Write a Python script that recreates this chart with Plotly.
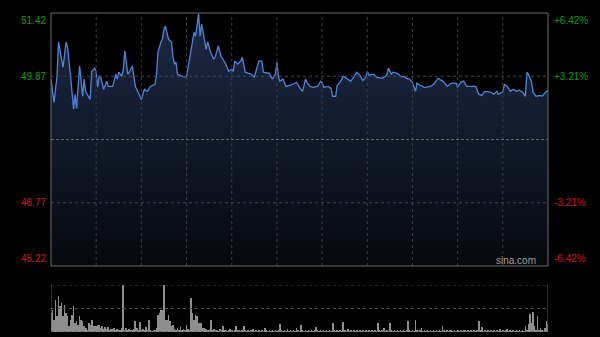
import plotly.graph_objects as go

# ---------------- data ----------------
prev_close = 48.32
pct_levels = [0.0642, 0.0321, -0.0321, -0.0642]
session_minutes = 330          # 9:30-12:00, 13:00-16:00
grid_step = 30

price_min = [0, 2, 4, 5, 7, 8, 10, 11, 13, 15, 16, 17, 18, 19, 21, 22, 23, 25, 26, 27,
             29, 30, 31, 32, 33, 35, 37, 38, 41, 43, 44, 45, 47, 48, 49, 51, 52, 54, 56, 57,
             59, 60, 62, 64, 66, 69, 70, 71, 73, 74, 75, 76, 78, 80, 81, 82, 83, 84, 87, 89,
             90, 92, 94, 95, 96, 98, 99, 100, 101, 103, 104, 106, 108, 109, 111, 113, 116, 118, 120, 121,
             122, 124, 126, 127, 129, 133, 135, 137, 138, 140, 141, 145, 147, 149, 150, 151, 152, 154, 156, 159,
             163, 165, 167, 169, 170, 172, 174, 177, 179, 180, 181, 184, 186, 187, 189, 190, 192, 194, 197, 199,
             201, 203, 205, 207, 209, 210, 211, 214, 216, 220, 222, 223, 224, 226, 227, 230, 233, 234, 236, 238,
             240, 242, 243, 245, 248, 252, 254, 257, 260, 261, 263, 266, 269, 270, 272, 274, 276, 278, 282, 284,
             286, 288, 292, 294, 296, 297, 300, 301, 303, 305, 307, 309, 311, 313, 315, 316, 317, 319, 320, 322,
             325, 326, 328, 329, 330]

price = [49.80, 49.23, 49.87, 50.71, 50.29, 50.09, 50.71, 50.58, 49.87, 49.06, 49.43, 49.08, 49.62, 50.12, 49.38, 49.80, 49.50, 49.38, 49.30, 49.99,
         50.07, 49.99, 49.60, 49.87, 49.85, 49.55, 49.75, 49.62, 49.62, 49.92, 49.80, 49.97, 49.87, 50.04, 50.49, 49.92, 49.97, 50.12, 49.62, 49.55,
         49.35, 49.30, 49.55, 49.50, 49.62, 49.67, 49.87, 50.46, 50.71, 50.78, 51.03, 51.10, 50.78, 50.71, 50.34, 50.17, 50.21, 49.92, 49.87, 49.85,
         49.87, 50.29, 50.73, 50.95, 50.85, 51.40, 50.85, 51.15, 50.95, 50.53, 50.71, 50.46, 50.29, 50.34, 50.61, 50.36, 50.17, 49.99, 50.04, 49.99,
         50.24, 50.17, 50.24, 50.34, 49.97, 49.92, 49.85, 50.09, 50.24, 50.24, 49.97, 49.94, 49.80, 49.92, 50.21, 49.85, 49.75, 49.80, 49.62, 49.65,
         49.72, 49.60, 49.50, 49.80, 49.72, 49.62, 49.60, 49.62, 49.75, 49.72, 49.60, 49.62, 49.57, 49.38, 49.38, 49.65, 49.72, 49.87, 49.80, 49.75,
         49.85, 49.97, 49.90, 49.77, 49.85, 49.99, 49.90, 49.92, 49.85, 49.82, 49.87, 49.90, 50.07, 49.92, 49.97, 49.94, 49.85, 49.87, 49.82, 49.80,
         49.72, 49.50, 49.70, 49.65, 49.60, 49.62, 49.67, 49.82, 49.75, 49.72, 49.62, 49.70, 49.70, 49.60, 49.72, 49.75, 49.62, 49.62, 49.62, 49.43,
         49.40, 49.50, 49.48, 49.43, 49.50, 49.43, 49.48, 49.67, 49.62, 49.50, 49.55, 49.50, 49.53, 49.48, 49.38, 49.97, 49.92, 49.75, 49.48, 49.38,
         49.40, 49.38, 49.48, 49.50, 49.51]

volume = [19, 22, 12, 32, 16, 36, 26, 29, 16, 27, 19, 16, 6, 12, 17, 26, 9, 11, 7, 16, 12, 11, 6, 4, 2, 9, 7, 12, 6, 6,
          6, 7, 7, 4, 6, 3, 5, 3, 5, 2, 3, 3, 4, 2, 3, 2, 2, 4, 47, 2, 4, 2, 3, 2, 2, 3, 11, 4, 2, 10,
          2, 3, 2, 5, 2, 12, 2, 1, 2, 2, 4, 17, 19, 22, 22, 47, 12, 12, 17, 11, 6, 7, 3, 2, 4, 2, 5, 2, 3, 2,
          7, 3, 2, 34, 19, 12, 17, 16, 9, 9, 9, 4, 4, 3, 2, 2, 12, 2, 3, 2, 2, 1, 3, 2, 6, 2, 2, 1, 2, 3,
          2, 1, 2, 6, 2, 2, 1, 2, 6, 2, 1, 2, 1, 2, 3, 1, 2, 1, 2, 1, 2, 1, 4, 2, 1, 2, 1, 2, 1, 2,
          1, 2, 8, 2, 1, 2, 1, 3, 1, 2, 1, 2, 1, 4, 2, 1, 7, 2, 1, 2, 1, 2, 1, 2, 1, 2, 5, 2, 1, 2,
          1, 2, 1, 2, 1, 2, 1, 9, 2, 1, 2, 1, 2, 1, 10, 2, 1, 3, 1, 2, 1, 2, 1, 2, 1, 2, 1, 2, 1, 2,
          1, 2, 1, 2, 1, 2, 1, 9, 2, 1, 2, 4, 1, 2, 1, 9, 2, 1, 2, 1, 2, 1, 2, 1, 2, 1, 2, 11, 2, 1,
          2, 1, 12, 2, 1, 2, 4, 1, 2, 1, 2, 1, 2, 1, 2, 1, 2, 1, 2, 1, 6, 2, 1, 2, 1, 2, 2, 1, 2, 1,
          2, 1, 2, 1, 2, 2, 1, 2, 1, 2, 1, 2, 1, 2, 11, 2, 5, 1, 2, 1, 2, 1, 2, 1, 2, 1, 2, 1, 3, 1,
          2, 1, 2, 3, 1, 2, 1, 2, 1, 2, 1, 2, 1, 2, 1, 6, 2, 8, 18, 9, 20, 6, 2, 16, 2, 4, 2, 1, 4, 11, 8]
vol_min = list(range(len(volume)))
vol_max = 47

# ---------------- derived ----------------
levels = [round(prev_close * (1 + p), 2) for p in pct_levels]   # 51.42, 49.87, 46.77, 45.22
y_top, y_bot = levels[0], levels[-1]

GREEN = "#139a13"
RED = "#d41515"
FONT = "Liberation Sans, Arial, sans-serif"
W, H = 600, 337

fig = go.Figure()

fig.add_trace(go.Scatter(
    x=price_min, y=price, mode="lines",
    line=dict(color="#4e85da", width=1.3),
    fill="tozeroy",
    fillgradient=dict(type="vertical",
                      colorscale=[[0, "#06080d"], [1, "#1c2a46"]],
                      start=y_bot, stop=y_top),
    xaxis="x", yaxis="y", hoverinfo="skip", showlegend=False,
))

fig.add_trace(go.Bar(
    x=vol_min, y=volume, marker=dict(color="#8e8e8e", line=dict(width=0)),
    width=0.5, xaxis="x2", yaxis="y2", hoverinfo="skip", showlegend=False,
))

shapes = []
# vertical grid in price panel
for m in range(grid_step, session_minutes, grid_step):
    shapes.append(dict(type="line", xref="x", yref="y", x0=m, x1=m, y0=y_bot, y1=y_top,
                       line=dict(color="#3c3c3c", width=1, dash="dot"), layer="above"))
# horizontal grid
for lv in (levels[1], levels[2]):
    shapes.append(dict(type="line", xref="x", yref="y", x0=0, x1=session_minutes, y0=lv, y1=lv,
                       line=dict(color="#454545", width=1, dash="dot"), layer="above"))
shapes.append(dict(type="line", xref="x", yref="y", x0=0, x1=session_minutes, y0=prev_close, y1=prev_close,
                   line=dict(color="#5e6670", width=1, dash="3px,2px"), layer="above"))
# frame of price panel
shapes.append(dict(type="rect", xref="x domain", yref="y domain", x0=0, x1=1, y0=0, y1=1,
                   line=dict(color="#6a6a6a", width=1), layer="above"))
# volume panel
for yy in (vol_max, vol_max / 2, 0):
    shapes.append(dict(type="line", xref="x2", yref="y2", x0=0, x1=session_minutes, y0=yy, y1=yy,
                       line=dict(color="#4a4a4a", width=1, dash="dot"), layer="above"))
for xx in (0, session_minutes):
    shapes.append(dict(type="line", xref="x2", yref="y2", x0=xx, x1=xx, y0=0, y1=vol_max,
                       line=dict(color="#5a5a5a", width=1), layer="above"))

annotations = []
for p, lv in zip(pct_levels, levels):
    col = GREEN if p > 0 else RED
    anchor = "top" if lv == y_top else ("bottom" if lv == y_bot else "middle")
    annotations.append(dict(xref="paper", yref="y", x=0, y=lv, text=f"{lv:.2f}",
                            xanchor="right", yanchor=anchor, xshift=-3, showarrow=False,
                            font=dict(color=col, size=10, family=FONT)))
    annotations.append(dict(xref="paper", yref="y", x=1, y=lv, text=f"{p*100:+.2f}%",
                            xanchor="left", yanchor=anchor, xshift=4, showarrow=False,
                            font=dict(color=col, size=10, family=FONT)))
annotations.append(dict(xref="paper", yref="y", x=1, y=y_bot, text="sina.com",
                        xanchor="right", yanchor="bottom", xshift=-10, yshift=-2, showarrow=False,
                        font=dict(color="#a0a0a0", size=10, family=FONT)))

ml, mr = 51, 52
fig.update_layout(
    width=W, height=H,
    margin=dict(l=ml, r=mr, t=0, b=0),
    paper_bgcolor="#000000", plot_bgcolor="#000000",
    showlegend=False, bargap=0,
    xaxis=dict(domain=[0, 1], range=[0, session_minutes], showgrid=False, zeroline=False,
               showticklabels=False, ticks="", anchor="y"),
    yaxis=dict(domain=[(H - 266) / H, (H - 13) / H], range=[y_bot, y_top], showgrid=False,
               zeroline=False, showticklabels=False, ticks="", anchor="x"),
    xaxis2=dict(domain=[0, 1], range=[0, session_minutes], showgrid=False, zeroline=False,
                showticklabels=False, ticks="", anchor="y2"),
    yaxis2=dict(domain=[(H - 332) / H, (H - 285) / H], range=[0, vol_max], showgrid=False,
                zeroline=False, showticklabels=False, ticks="", anchor="x2"),
    shapes=shapes, annotations=annotations,
)

fig.write_html("out.html")
